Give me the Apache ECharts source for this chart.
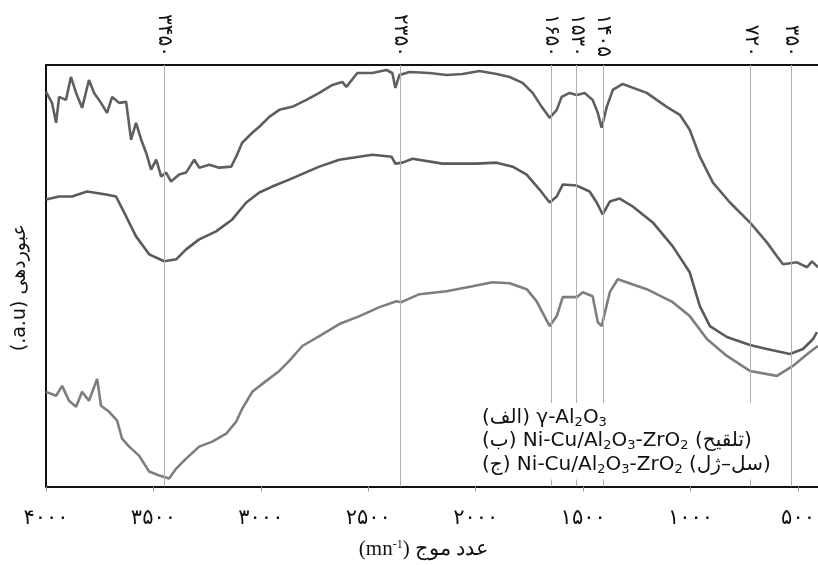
<!DOCTYPE html>
<html lang="fa">
<head>
  <meta charset="utf-8" />
  <script src="https://cdn.jsdelivr.net/npm/echarts@6/dist/echarts.min.js"></script>
</head>
<body style="margin:0; background:#fff">
  <div id="container" style="width:818px; height:565px"></div>
  <script>
    // wavenumber (cm-1), transmittance (a.u.)
    var seriesNames = ['γ-Al2O3', 'Ni-Cu/Al2O3-ZrO2 (تلقیح)', 'Ni-Cu/Al2O3-ZrO2 (سل-ژل)'];

    var curveA = [
      [4000, 396], [3972, 385], [3953, 365], [3939, 391], [3907, 388], [3884, 411], [3860, 395],
      [3832, 380], [3800, 408], [3776, 395], [3744, 385], [3716, 375], [3692, 391], [3660, 385],
      [3627, 386], [3604, 348], [3581, 365], [3557, 348], [3534, 335], [3511, 318], [3487, 328],
      [3464, 311], [3441, 315], [3418, 306], [3380, 313], [3348, 315], [3310, 328], [3287, 320],
      [3240, 323], [3194, 320], [3138, 321], [3115, 331], [3087, 345], [3040, 355], [3007, 361],
      [2961, 371], [2914, 378], [2854, 381], [2788, 388], [2728, 395], [2667, 403], [2621, 406],
      [2602, 401], [2551, 415], [2481, 415], [2416, 418], [2388, 415], [2374, 400], [2355, 413],
      [2308, 416], [2215, 415], [2136, 413], [2061, 414], [1982, 417], [1903, 414], [1842, 411],
      [1782, 405], [1735, 395], [1693, 381], [1656, 370], [1623, 378], [1600, 391], [1563, 395],
      [1530, 393], [1493, 395], [1456, 388], [1432, 375], [1414, 360], [1390, 381], [1362, 398],
      [1316, 404], [1204, 395], [1111, 381], [1050, 373], [1004, 358], [957, 331], [896, 305],
      [817, 285], [724, 265], [645, 245], [598, 231], [570, 223], [505, 225], [458, 220],
      [435, 226], [407, 220]
    ];

    var curveB = [
      [4000, 288], [3939, 291], [3879, 291], [3809, 296], [3720, 293], [3674, 291], [3627, 271],
      [3581, 251], [3520, 233], [3450, 226], [3394, 228], [3348, 238], [3287, 248], [3208, 256],
      [3133, 268], [3068, 285], [3007, 295], [2947, 301], [2868, 308], [2728, 321], [2635, 328],
      [2481, 333], [2392, 331], [2374, 324], [2341, 325], [2294, 329], [2155, 324], [1996, 324],
      [1903, 325], [1828, 321], [1763, 313], [1703, 298], [1656, 285], [1623, 291], [1595, 303],
      [1530, 302], [1470, 296], [1437, 285], [1409, 273], [1376, 286], [1330, 289], [1269, 281],
      [1176, 265], [1083, 241], [1004, 215], [957, 181], [910, 161], [831, 150], [724, 142],
      [645, 138], [538, 133], [477, 138], [430, 148], [412, 155]
    ];

    var curveC = [
      [4000, 95], [3953, 91], [3925, 101], [3893, 86], [3860, 80], [3832, 95], [3800, 86],
      [3762, 108], [3744, 81], [3706, 75], [3669, 66], [3646, 48], [3613, 40], [3567, 31],
      [3520, 15], [3473, 11], [3427, 8], [3394, 18], [3348, 28], [3287, 40], [3226, 45],
      [3161, 53], [3115, 65], [3087, 78], [3040, 95], [2975, 106], [2914, 116], [2868, 126],
      [2807, 141], [2728, 151], [2635, 163], [2541, 171], [2448, 180], [2369, 186], [2346, 185],
      [2262, 193], [2136, 196], [2015, 201], [1922, 205], [1842, 204], [1763, 198], [1717, 186],
      [1656, 161], [1623, 171], [1595, 190], [1530, 190], [1502, 195], [1456, 191], [1432, 165],
      [1414, 161], [1376, 195], [1339, 208], [1204, 198], [1083, 185], [1004, 171], [924, 148],
      [831, 131], [724, 116], [598, 111], [524, 121], [445, 135], [407, 141]
    ];

    var xTickValues = [4000, 3500, 3000, 2500, 2000, 1500, 1000, 500];
    var xTickLabels = ['۴۰۰۰', '۳۵۰۰', '۳۰۰۰', '۲۵۰۰', '۲۰۰۰', '۱۵۰۰', '۱۰۰۰', '۵۰۰'];

    var peakPos = [3450, 2350, 1650, 1530, 1405, 720, 530];
    var peakLabels = ['۳۴۵۰', '۲۳۵۰', '۱۶۵۰', '۱۵۳۰', '۱۴۰۵', '۷۲۰', '۳۵۰'];

    // curve tags: [wavenumber, value, text]
    var curveTags = [
      [3031, 381, '(الف)'],
      [3054, 307, '(ب)'],
      [3035, 119, '(ج)']
    ];

    var chart = echarts.init(document.getElementById('container'), null, { renderer: 'canvas' });

    function tag(i) {
      return {
        symbol: 'none',
        symbolSize: 0,
        silent: true,
        label: {
          show: true,
          position: 'inside',
          formatter: curveTags[i][2],
          color: '#111',
          fontSize: 16,
          fontFamily: 'Liberation Serif, DejaVu Serif, serif'
        },
        data: [{ coord: [curveTags[i][0], curveTags[i][1]] }]
      };
    }

    var lineBase = { type: 'line', showSymbol: false, symbol: 'none', z: 3, silent: true };
    var legendFont = 'DejaVu Sans, sans-serif';

    var option = {
      animation: false,
      backgroundColor: '#fff',
      grid: { left: 46, right: 0, top: 65, bottom: 77 },
      title: {
        left: 478,
        top: 403,
        backgroundColor: '#fff',
        padding: [3, 6, 3, 4],
        itemGap: 0,
        text: '(الف) γ-Al{s|2}O{s|3}\n(ب) Ni-Cu/Al{s|2}O{s|3}-ZrO{s|2} (تلقیح)\n(ج) Ni-Cu/Al{s|2}O{s|3}-ZrO{s|2} (سل–ژل)',
        textStyle: {
          fontFamily: legendFont,
          fontWeight: 'normal',
          fontSize: 20,
          lineHeight: 23.5,
          color: '#111',
          rich: {
            s: { fontSize: 13, fontFamily: legendFont, color: '#111', padding: [9, 0, 0, 0], lineHeight: 23.5 }
          }
        }
      },
      xAxis: [
        {
          type: 'value',
          min: 407,
          max: 4000,
          inverse: true,
          position: 'bottom',
          name: '(mn{sup|-1}) عدد موج',
          nameLocation: 'middle',
          nameGap: 52,
          nameTextStyle: {
            fontFamily: 'Liberation Serif, DejaVu Serif, serif',
            fontSize: 21,
            color: '#111',
            padding: [0, 16, 0, 0],
            rich: { sup: { fontSize: 12, padding: [0, 0, 10, 0], fontFamily: 'Liberation Serif, serif', color: '#111' } }
          },
          axisLine: { show: true, lineStyle: { color: '#111', width: 2 } },
          axisTick: { show: true, customValues: xTickValues, length: 5, lineStyle: { color: '#999' } },
          axisLabel: {
            customValues: xTickValues,
            formatter: function (v) { return xTickLabels[xTickValues.indexOf(v)]; },
            margin: 22,
            fontSize: 21,
            color: '#111',
            fontFamily: 'DejaVu Sans, sans-serif'
          },
          splitLine: { show: false }
        },
        {
          type: 'value',
          min: 407,
          max: 4000,
          inverse: true,
          position: 'top',
          axisLine: { show: true, lineStyle: { color: '#111', width: 2 } },
          axisTick: { show: false },
          axisLabel: {
            customValues: peakPos,
            formatter: function (v) { return peakLabels[peakPos.indexOf(v)]; },
            rotate: 90,
            margin: 8,
            fontSize: 20,
            color: '#111',
            fontFamily: 'DejaVu Sans, sans-serif'
          },
          splitLine: { show: false }
        }
      ],
      yAxis: {
        type: 'value',
        min: 0,
        max: 423,
        name: '(.a.u) عبوردهی',
        nameLocation: 'middle',
        nameRotate: 90,
        nameGap: 16,
        nameTextStyle: { fontFamily: 'DejaVu Sans, sans-serif', fontSize: 19, color: '#111', padding: [0, 24, 0, 0] },
        axisLine: { show: true, lineStyle: { color: '#111', width: 2 } },
        axisTick: { show: false },
        axisLabel: { show: false },
        splitLine: { show: false }
      },
      series: [
        {
          type: 'line',
          name: 'peaks',
          data: [],
          z: 1,
          markLine: {
            silent: true,
            symbol: ['none', 'none'],
            label: { show: false },
            lineStyle: { color: '#b0b0b0', type: 'solid', width: 1 },
            data: peakPos.map(function (v) { return { xAxis: v }; })
          }
        },
        Object.assign({}, lineBase, {
          name: seriesNames[0],
          data: curveA,
          lineStyle: { color: '#5f5f5f', width: 2.6 },
          markPoint: tag(0)
        }),
        Object.assign({}, lineBase, {
          name: seriesNames[1],
          data: curveB,
          lineStyle: { color: '#5a5a5a', width: 2.6 },
          markPoint: tag(1)
        }),
        Object.assign({}, lineBase, {
          name: seriesNames[2],
          data: curveC,
          lineStyle: { color: '#7e7e7e', width: 2.6 },
          markPoint: tag(2)
        })
      ]
    };

    chart.setOption(option);
  </script>
</body>
</html>
